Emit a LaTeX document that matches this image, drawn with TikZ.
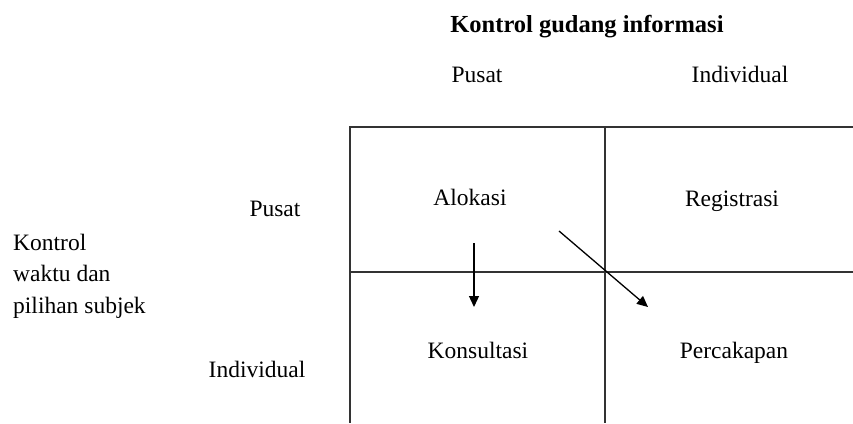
\documentclass[tikz,border=0pt]{standalone}
\usepackage{fontspec}
\setmainfont{Liberation Serif}
\usetikzlibrary{arrows.meta}
\begin{document}
\begin{tikzpicture}[x=1pt,y=-1pt,
  lbl/.style={inner sep=0pt,anchor=base,font=\fontsize{23.5}{31.5}\selectfont},
  grid/.style={draw=black!80,line width=1.6pt},
  arr/.style={draw=black,line width=1.3pt,-{Triangle[length=11pt,width=10pt]}}]
\useasboundingbox (0,0) rectangle (853,423);
% grid (open at right and bottom)
\draw[grid] (853,127) -- (350,127) -- (350,423);
\draw[grid] (605,127) -- (605,423);
\draw[grid] (350,272) -- (853,272);
% title and column heads
\node[lbl,font=\bfseries\fontsize{24.5}{28}\selectfont] (title) at (587,32) {Kontrol gudang informasi};
\node[lbl] (colA) at (477,82) {Pusat};
\node[lbl] (colB) at (740,82) {Individual};
% row heads
\node[lbl] (rowA) at (275,216) {Pusat};
\node[lbl] (rowB) at (257,377) {Individual};
\node[lbl,anchor=base west,align=left] (side) at (13,313) {Kontrol\\waktu dan\\pilihan subjek};
% cells
\node[lbl] (alokasi) at (470,205) {Alokasi};
\node[lbl] (registrasi) at (732,206) {Registrasi};
\node[lbl] (konsultasi) at (478,358) {Konsultasi};
\node[lbl] (percakapan) at (734,358) {Percakapan};
% arrows
\coordinate (a1s) at (474,243);
\coordinate (a1e) at (474,307);
\coordinate (a2s) at (559,231);
\coordinate (a2e) at (648,307);
\draw[arr] (a1s) -- (a1e);
\draw[arr] (a2s) -- (a2e);
\end{tikzpicture}
\end{document}
